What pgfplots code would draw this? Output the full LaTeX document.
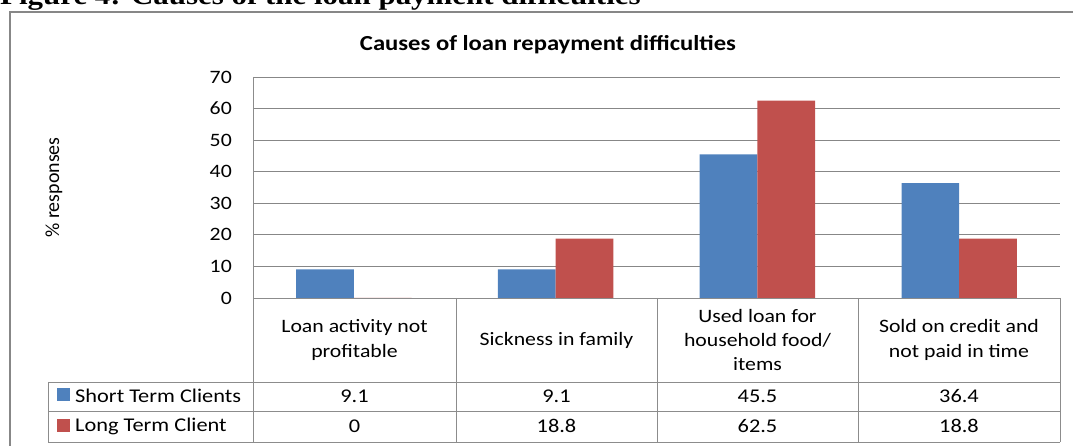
\documentclass[border=0pt]{standalone}
\usepackage{pgfplots}
\pgfplotsset{compat=1.18}
\usepackage{pgfplotstable}
\usepackage{fontspec}
\setmainfont[FakeStretch=1.15]{Carlito}
\newfontfamily\plainfont{Carlito}
\newfontfamily\capfont[FakeStretch=1.15]{Liberation Serif}
\definecolor{barblue}{HTML}{4F81BD}
\definecolor{barred}{HTML}{C0504D}
\definecolor{gridgray}{HTML}{878787}
\definecolor{tabgray}{HTML}{8C8C8C}

\pgfplotstableread{
x short long
0 9.1 0
1 9.1 18.8
2 45.5 62.5
3 36.4 18.8
}\loandata

\begin{document}
\begin{tikzpicture}[x=1bp,y=1bp]
\path[use as bounding box] (0,0) rectangle (1073,446);
\clip (0,0) rectangle (1073,446);
% caption (cut at the top)
\node[anchor=base west, inner sep=0pt, font=\capfont\bfseries\fontsize{27}{30}\selectfont] at (0,441) {Figure 4: Causes of the loan payment difficulties};
% outer chart frame
\draw[gridgray, line width=1.6bp] (10,-20) rectangle (1100,434);
% title
\node[font=\bfseries\fontsize{21.5}{26}\selectfont, inner sep=0pt] at (548,401.5) {Causes of loan repayment difficulties};
% y label
\node[rotate=90, font=\plainfont\fontsize{20}{24}\selectfont, inner sep=0pt] at (54,258.5) {\% responses};

\begin{axis}[
  at={(253bp,148bp)}, anchor=south west,
  width=807bp, height=221bp, scale only axis,
  xmin=-0.5, xmax=3.5, ymin=0, ymax=70,
  ytick={0,10,...,70}, xtick=\empty,
  ymajorgrids, grid style={draw=gridgray, line width=0.9bp},
  major tick length=0pt,
  axis line style={draw=none},
  ybar=0pt, bar width=0.2857,
  /pgf/number format/assume math mode=true,
  yticklabel style={font=\fontsize{19}{22}\selectfont, anchor=east, inner sep=0pt, xshift=-21bp},
  clip=false,
]
\addplot[fill=barblue, draw=none] table[x=x, y=short] {\loandata};
\addplot[fill=barred, draw=none] table[x=x, y=long] {\loandata};
\end{axis}

% axis line and data table grid
\begin{scope}[tabgray, line width=0.9bp]
\draw (253,369) -- (253,4);
\draw (253,148) -- (1060,148);
\draw (48,64) -- (1060,64);
\draw (48,35) -- (1060,35);
\draw (48,4) -- (1060,4);
\draw (48,64) -- (48,4);
\foreach \xx in {456,657,858,1060} \draw (\xx,148) -- (\xx,4);
\end{scope}

% category labels
\begin{scope}[every node/.style={align=center, inner sep=0pt, font=\fontsize{19}{24.5}\selectfont}]
\node at (354.5,106) {Loan activity not\\profitable};
\node at (556.5,106) {Sickness in family};
\node at (757.5,106) {Used loan for\\household food/\\items};
\node at (959,106) {Sold on credit and\\not paid in time};
\end{scope}

% table rows
\begin{scope}[every node/.style={inner sep=0pt, font=\fontsize{19.5}{22}\selectfont}]
\fill[barblue] (57,45) rectangle (70,58);
\fill[barred] (57,14) rectangle (70,27);
\node[anchor=west] at (75,50) {Short Term Clients};
\node[anchor=west] at (75,20) {Long Term Client};
\node at (354.5,50) {9.1};
\node at (556.5,50) {9.1};
\node at (757.5,50) {45.5};
\node at (959,50) {36.4};
\node at (354.5,20) {0};
\node at (556.5,20) {18.8};
\node at (757.5,20) {62.5};
\node at (959,20) {18.8};
\end{scope}
\end{tikzpicture}
\end{document}
